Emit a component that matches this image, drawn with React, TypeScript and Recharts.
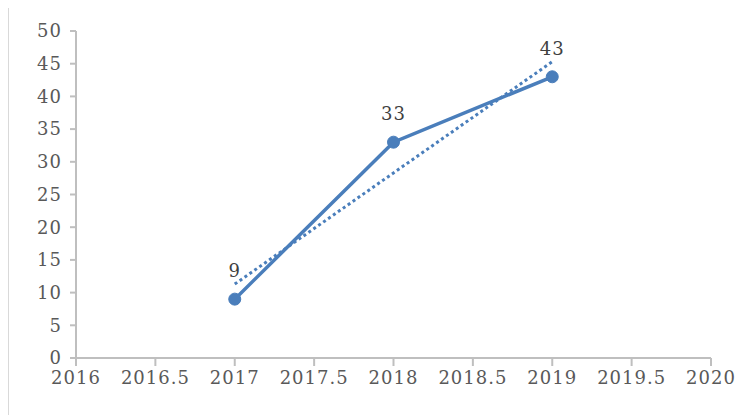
import { LineChart, Line, XAxis, YAxis, LabelList } from "recharts";

const years: Array<number> = [2017, 2018, 2019];
const values: Array<number> = [9, 33, 43];
const trendYears: Array<number> = [2017, 2019];
const trendValues: Array<number> = [11.3, 45.3];
const xTicks: Array<number> = [2016, 2016.5, 2017, 2017.5, 2018, 2018.5, 2019, 2019.5, 2020];
const yTicks: Array<number> = [0, 5, 10, 15, 20, 25, 30, 35, 40, 45, 50];

const series = years.map((year, i) => ({ year, value: values[i] }));
const trend = trendYears.map((year, i) => ({ year, value: trendValues[i] }));

const font = "'DejaVu Serif', serif";
const blue = "#4a7ebb";

const App = () => {
  return (
    <div
      style={{
        marginTop: -1,
        width: 760,
        height: 420,
        border: "1px solid #d9d9d9",
        boxSizing: "border-box",
        fontFamily: font,
      }}
    >
      <LineChart
        width={742}
        height={410}
        margin={{ top: 23, right: 40, left: 0, bottom: 20 }}
      >
        <XAxis
          dataKey="year"
          type="number"
          domain={[2016, 2020]}
          ticks={xTicks}
          allowDuplicatedCategory={false}
          stroke="#bfbfbf"
          strokeWidth={2}
          tickSize={8}
          tickMargin={5}
          height={40}
          tick={{ fill: "#595959", fontSize: 18, fontFamily: font, letterSpacing: 1 }}
        />
        <YAxis
          type="number"
          domain={[0, 50]}
          ticks={yTicks}
          width={67}
          stroke="#bfbfbf"
          strokeWidth={2}
          tickSize={6}
          tickMargin={8}
          tick={{ fill: "#595959", fontSize: 18, fontFamily: font, letterSpacing: 1 }}
        />
        <Line
          data={trend}
          dataKey="value"
          stroke={blue}
          strokeWidth={3}
          strokeDasharray="3 3"
          dot={false}
          activeDot={false}
          isAnimationActive={false}
        />
        <Line
          data={series}
          dataKey="value"
          stroke={blue}
          strokeWidth={3.5}
          dot={{ r: 6, fill: blue, stroke: blue, strokeWidth: 1 }}
          isAnimationActive={false}
        >
          <LabelList
            dataKey="value"
            position="top"
            offset={22}
            fill="#404040"
            fontSize={18}
            fontFamily={font}
            letterSpacing={1}
          />
        </Line>
      </LineChart>
    </div>
  );
};

export default App;
